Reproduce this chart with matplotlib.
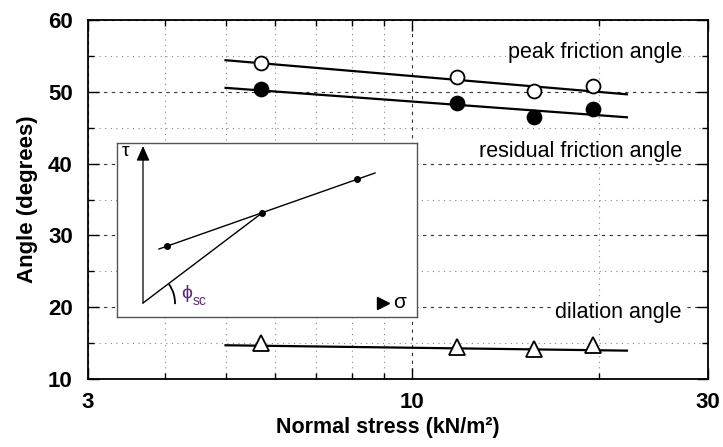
import matplotlib
matplotlib.use("Agg")
import matplotlib.pyplot as plt
from matplotlib.ticker import FixedLocator, NullFormatter
from matplotlib.patches import Arc

plt.rcParams['font.family'] = ['Liberation Sans', 'DejaVu Sans']

# test results
stress = [5.7, 11.8, 15.7, 19.6]
peak = [54.05, 52.0, 50.15, 50.8]
residual = [50.35, 48.4, 46.45, 47.55]
dilation = [15.0, 14.5, 14.2, 14.7]

# straight fit lines (log x), end points
fit_x = [5.0, 22.2]
peak_fit = [54.4, 49.65]
residual_fit = [50.55, 46.45]
dilation_fit = [14.7, 13.95]

xticks_major = [3, 10, 30]
xticks_minor = [4, 5, 6, 7, 8, 9, 20]
yticks_major = [10, 20, 30, 40, 50, 60]
yticks_minor = [15, 25, 35, 45, 55]

# inset sketch (tau - sigma), arbitrary units
sk_pts_x = [24, 119, 214]
sk_pts_y = [57, 90, 124]
sk_line_x = [16, 232]
sk_line_y = [54, 130]
sk_origin_line_x = [0, 119]
sk_origin_line_y = [0, 90]

fig = plt.figure(figsize=(7.23, 4.47), dpi=100)
ax = fig.add_axes([88 / 723, 1 - 379 / 447, 620 / 723, 359 / 447])

ax.set_xscale('log')
ax.set_xlim(3, 30)
ax.set_ylim(10, 60)

ax.xaxis.set_major_locator(FixedLocator(xticks_major))
ax.xaxis.set_minor_locator(FixedLocator(xticks_minor))
ax.xaxis.set_minor_formatter(NullFormatter())
ax.set_xticklabels([str(v) for v in xticks_major])
ax.yaxis.set_major_locator(FixedLocator(yticks_major))
ax.yaxis.set_minor_locator(FixedLocator(yticks_minor))

ax.tick_params(which='both', direction='in', top=True, right=True, width=1)
ax.tick_params(which='major', length=8, labelsize=16)
ax.tick_params(axis='y', which='major', pad=11)
ax.tick_params(axis='x', which='major', pad=9)
ax.tick_params(which='minor', length=4.5)
for lab in ax.get_xticklabels() + ax.get_yticklabels():
    lab.set_fontweight('bold')

ax.grid(which='major', linestyle=(0, (3, 4)), color='#333333', linewidth=0.8)
ax.grid(which='minor', linestyle=(0, (1, 4)), color='#888888', linewidth=0.8)
ax.set_axisbelow(True)
for sp in ax.spines.values():
    sp.set_linewidth(1.3)

ax.plot(fit_x, peak_fit, color='black', lw=1.6, zorder=3)
ax.plot(fit_x, residual_fit, color='black', lw=1.6, zorder=3)
ax.plot(fit_x, dilation_fit, color='black', lw=1.6, zorder=3)

ax.plot(stress, peak, 'o', ms=10, mfc='white', mec='black', mew=1.3, zorder=4)
ax.plot(stress, residual, 'o', ms=10, mfc='black', mec='black', mew=1.3, zorder=4)
ax.plot(stress, dilation, '^', ms=12, mfc='white', mec='black', mew=1.3, zorder=4)

box = dict(facecolor='white', edgecolor='none', pad=1)
ax.text(0.958, 0.909, 'peak friction angle', transform=ax.transAxes,
        ha='right', va='center', fontsize=15.5, bbox=box, zorder=2)
ax.text(0.958, 0.635, 'residual friction angle', transform=ax.transAxes,
        ha='right', va='center', fontsize=15.5, bbox=box, zorder=2)
ax.text(0.958, 0.185, 'dilation angle', transform=ax.transAxes,
        ha='right', va='center', fontsize=15.5, bbox=box, zorder=2)

ax.set_xlabel('Normal stress (kN/m²)', fontsize=15.5, fontweight='bold')
ax.xaxis.set_label_coords(0.484, -0.105)
ax.set_ylabel('Angle (degrees)', fontsize=16, fontweight='bold', labelpad=7)

# inset sketch
ins = fig.add_axes([117 / 723, 1 - 317 / 447, 300 / 723, 174 / 447])
ins.set_xlim(-26, 274)
ins.set_ylim(-14, 160)
ins.set_xticks([])
ins.set_yticks([])
for sp in ins.spines.values():
    sp.set_color('#555555')
    sp.set_linewidth(1)

ins.annotate('', xy=(0, 157), xytext=(0, 0),
             arrowprops=dict(arrowstyle='-|>,head_length=0.9,head_width=0.4',
                             color='black', lw=0.9, shrinkA=0, shrinkB=0))
ins.plot([240], [0], marker='>', ms=8, color='black', mec='black')
ins.text(-17, 151, 'τ', fontsize=14, ha='center', va='center')
ins.text(250, 1, 'σ', fontsize=15, ha='left', va='center')

ins.plot(sk_line_x, sk_line_y, color='black', lw=1)
ins.plot(sk_origin_line_x, sk_origin_line_y, color='black', lw=1)
ins.plot(sk_pts_x, sk_pts_y, 'o', ms=4, color='black')
ins.add_patch(Arc((0, 0), 64, 64, theta1=-2, theta2=36, color='black', lw=1.3))
ins.text(38, 9, 'ϕ', fontsize=14, color='#5c2a6e', ha='left', va='center')
ins.text(50, 2, 'sc', fontsize=10, color='#5c2a6e', ha='left', va='center')

fig.savefig('out.png', dpi=100)
